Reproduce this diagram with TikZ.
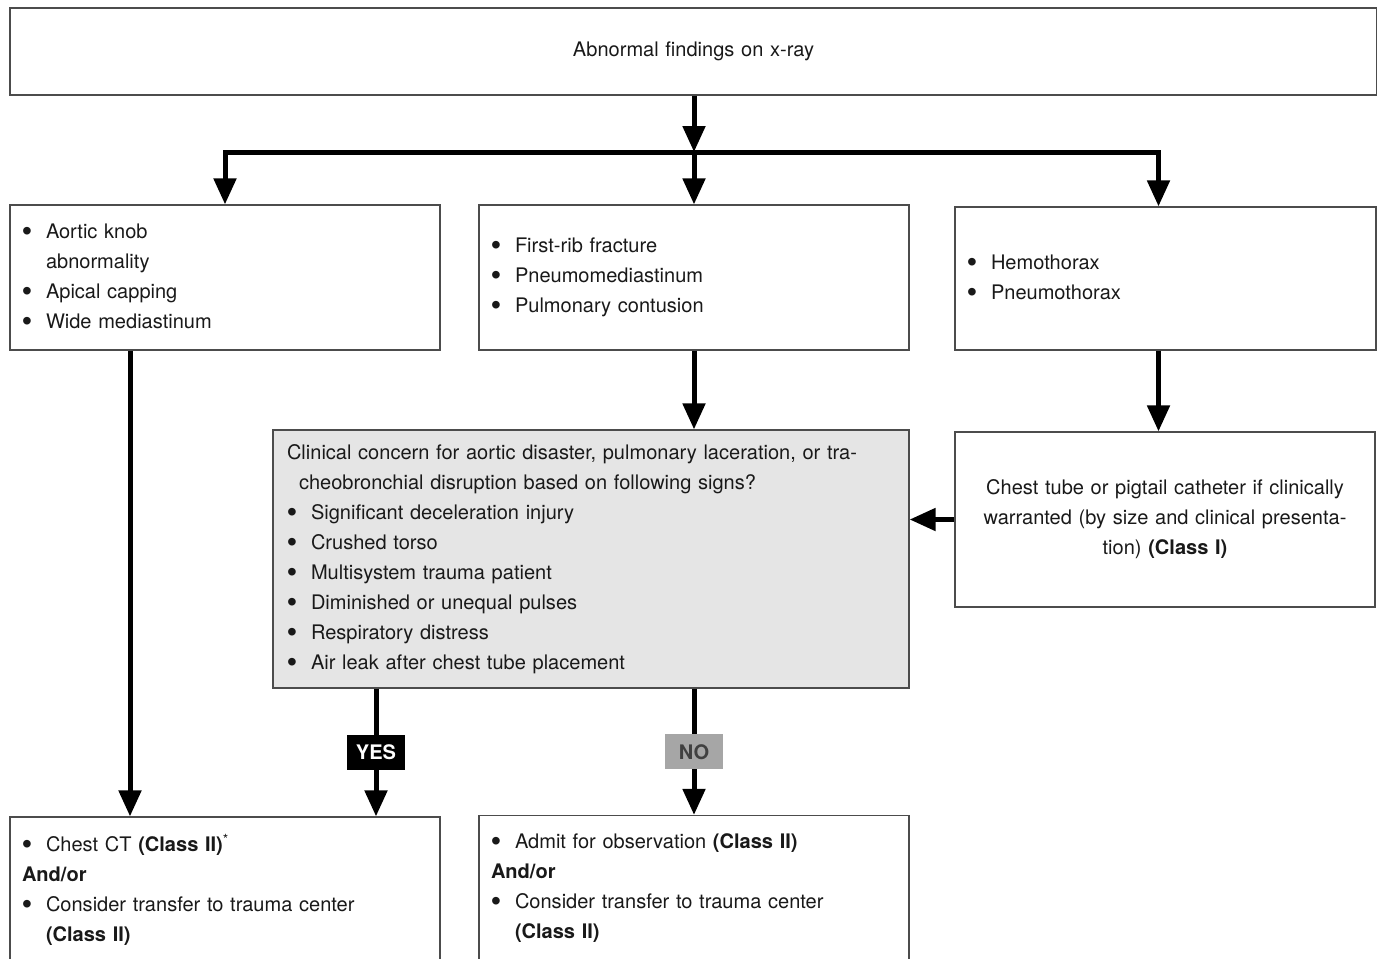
\documentclass[tikz,border=0pt]{standalone}
\usepackage{fontspec}
\setmainfont{TeX Gyre Heros}
\newfontfamily\bulfont{Liberation Sans}
\usepackage{tikz}
\usetikzlibrary{arrows.meta,positioning,calc}

\newcommand{\bul}{\makebox[0.48cm][l]{\raisebox{-1.3pt}{\bulfont\fontsize{16}{0}\selectfont\textbullet}}}
\newcommand{\ind}{\hspace*{0.48cm}}

\begin{document}
\begin{tikzpicture}[
  box/.style={rectangle, draw=black!70, line width=0.7pt, align=left, inner xsep=0.24cm,
    text=black!90, font=\fontsize{11.4}{17.07}\selectfont},
  arr/.style={-{Triangle[length=0.52cm,width=0.44cm]}, line width=0.1cm},
  yeslbl/.style={fill=black, text=white, font=\bfseries\fontsize{11.4}{13}\selectfont,
    minimum width=1.16cm, minimum height=0.7cm, inner sep=0pt},
  nolbl/.style={yeslbl, fill=black!35, text=black!75}]
\useasboundingbox (0,0) rectangle (27.54,-19.16);
\clip (0,0) rectangle (27.54,-19.16);

\node[box, align=center, text width=26.86cm, minimum height=1.74cm] (top) at (13.87,-1.03)
  {Abnormal findings on x-ray};
\node[box, text width=8.12cm, minimum height=2.9cm] (lbox) at (4.5,-5.55)
  {\bul Aortic knob\\\ind abnormality\\\bul Apical capping\\\bul Wide mediastinum};
\node[box, text width=8.12cm, minimum height=2.9cm] (mbox) at (13.88,-5.55)
  {\bul First-rib fracture\\\bul Pneumomediastinum\\\bul Pulmonary contusion};
\node[box, text width=7.94cm, minimum height=2.86cm] (rbox) at (23.31,-5.57)
  {\bul Hemothorax\\\bul Pneumothorax};
\node[box, fill=black!10, inner xsep=0.28cm, text width=12.16cm, minimum height=5.16cm] (gbox) at (11.82,-11.18)
  {Clinical concern for aortic disaster, pulmonary laceration, or tra-\\
   \hspace*{0.24cm}cheobronchial disruption based on following signs?\\
   \bul Significant deceleration injury\\
   \bul Crushed torso\\
   \bul Multisystem trauma patient\\
   \bul Diminished or unequal pulses\\
   \bul Respiratory distress\\
   \bul Air leak after chest tube placement};
\node[box, align=center, text width=7.92cm, minimum height=3.5cm] (rlbox) at (23.3,-10.39)
  {Chest tube or pigtail catheter if clinically\\warranted (by size and clinical presenta-\\tion) \textbf{(Class I)}};
\node[box, text width=8.12cm, minimum height=2.9cm] (blbox) at (4.5,-17.79)
  {\bul Chest CT \textbf{(Class II)}\textsuperscript{*}\\\textbf{And/or}\\
   \bul Consider transfer to trauma center\\\ind\textbf{(Class II)}};
\node[box, text width=8.12cm, minimum height=2.9cm] (bmbox) at (13.88,-17.76)
  {\bul Admit for observation \textbf{(Class II)}\\\textbf{And/or}\\
   \bul Consider transfer to trauma center\\\ind\textbf{(Class II)}};

\coordinate (jn) at (13.88,-3.04);
\coordinate (yesx) at (7.52,-14);
\coordinate (rx) at (23.17,-4);

% split under the x-ray box
\draw[arr] (top.south -| jn) -- (jn);
\draw[arr] (jn) -| (rbox.north -| rx);
\draw[arr] (jn) -| (lbox.north);
\draw[arr] (jn) -- (mbox.north);

\draw[arr] ([xshift=-1.9cm]lbox.south) -- ([xshift=-1.9cm]blbox.north);
\draw[arr] (mbox.south) -- (mbox.south |- gbox.north);
\draw[arr] (rbox.south -| rx) -- (rlbox.north -| rx);
\draw[arr] (rlbox.west) -- (rlbox.west -| gbox.east);

% yes / no
\draw[arr] (gbox.south -| yesx) -- (blbox.north -| yesx) node[yeslbl, midway] (yes) {YES};
\draw[arr] (gbox.south -| bmbox.north) -- (bmbox.north) node[nolbl, midway] (no) {NO};
\end{tikzpicture}
\end{document}
